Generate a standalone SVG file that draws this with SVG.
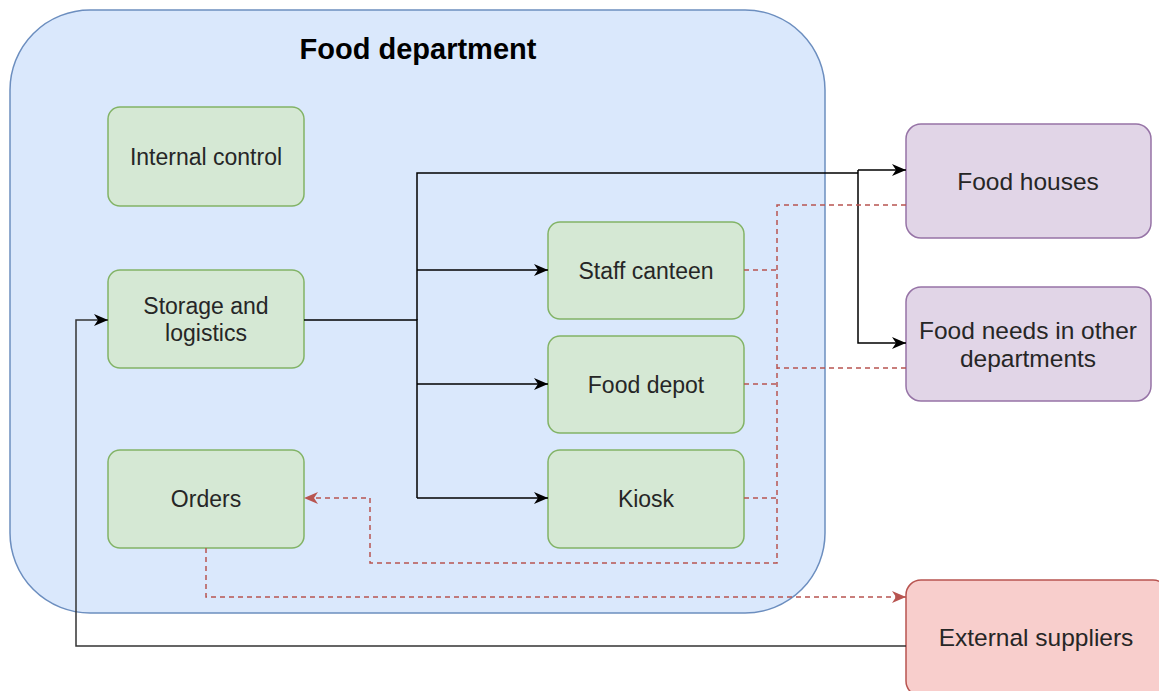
<svg xmlns="http://www.w3.org/2000/svg" width="1159" height="691" viewBox="0 0 1159 691">
<style>
.container{fill:#dae8fc;stroke:#6c8ebf;stroke-width:1.5}
.green{fill:#d5e8d4;stroke:#82b366;stroke-width:1.5}
.purple{fill:#e1d5e7;stroke:#9673a6;stroke-width:1.5}
.red{fill:#f8cecc;stroke:#b85450;stroke-width:1.5}
.lbl{font-family:"Liberation Sans",Arial,sans-serif;font-size:23px;fill:#262626;text-anchor:middle}
.big{font-size:24.5px}
.title{font-family:"Liberation Sans",Arial,sans-serif;font-size:29px;font-weight:bold;fill:#000;text-anchor:middle}
.solid{fill:none;stroke:#000;stroke-width:1.5}
.dash{fill:none;stroke:#b85450;stroke-width:1.5;stroke-dasharray:5 4}
</style>
<defs>
<marker id="arrB" markerUnits="userSpaceOnUse" markerWidth="14" markerHeight="12" viewBox="0 0 14 12" refX="14" refY="6" orient="auto">
<path d="M0,0 L14,6 L0,12 L4,6 z" fill="#000"/>
</marker>
<marker id="arrR" markerUnits="userSpaceOnUse" markerWidth="14" markerHeight="12" viewBox="0 0 14 12" refX="14" refY="6" orient="auto">
<path d="M0,0 L14,6 L0,12 L4,6 z" fill="#b85450"/>
</marker>
</defs>

<g id="food-department">
<rect class="container" x="10" y="10" width="815" height="603" rx="80" ry="80"/>
<text class="title" x="418" y="59">Food department</text>
</g>

<g id="internal-control">
<rect class="green" x="108" y="107" width="196" height="99" rx="12"/>
<text class="lbl" x="206" y="165">Internal control</text>
</g>
<g id="storage-logistics">
<rect class="green" x="108" y="270" width="196" height="98" rx="12"/>
<text class="lbl" x="206" y="314">Storage and</text>
<text class="lbl" x="206" y="341">logistics</text>
</g>
<g id="orders">
<rect class="green" x="108" y="450" width="196" height="98" rx="12"/>
<text class="lbl" x="206" y="507">Orders</text>
</g>
<g id="staff-canteen">
<rect class="green" x="548" y="222" width="196" height="97" rx="12"/>
<text class="lbl" x="646" y="279">Staff canteen</text>
</g>
<g id="food-depot">
<rect class="green" x="548" y="336" width="196" height="97" rx="12"/>
<text class="lbl" x="646" y="393">Food depot</text>
</g>
<g id="kiosk">
<rect class="green" x="548" y="450" width="196" height="98" rx="12"/>
<text class="lbl" x="646" y="507">Kiosk</text>
</g>
<g id="food-houses">
<rect class="purple" x="906" y="124" width="245" height="114" rx="15"/>
<text class="lbl big" x="1028" y="190">Food houses</text>
</g>
<g id="food-needs">
<rect class="purple" x="906" y="287" width="245" height="114" rx="15"/>
<text class="lbl big" x="1028" y="339">Food needs in other</text>
<text class="lbl big" x="1028" y="367">departments</text>
</g>
<g id="external-suppliers">
<rect class="red" x="906" y="580" width="262" height="116" rx="15"/>
<text class="lbl big" x="1036" y="646">External suppliers</text>
</g>

<g id="connectors">
<path class="solid" d="M304,320 H417 V498"/>
<path class="solid" d="M417,320 V173 H858"/>
<path class="solid" d="M858,170 H906" marker-end="url(#arrB)"/>
<path class="solid" d="M858,170 V343 H906" marker-end="url(#arrB)"/>
<path class="solid" d="M417,270 H548" marker-end="url(#arrB)"/>
<path class="solid" d="M417,384 H548" marker-end="url(#arrB)"/>
<path class="solid" d="M417,498 H548" marker-end="url(#arrB)"/>
<path class="solid" d="M906,646 H76 V320 H108" marker-end="url(#arrB)" style="stroke:#333"/>
<path class="dash" d="M906,205 H777 V563 H370 V498 H304" marker-end="url(#arrR)"/>
<path class="dash" d="M744,270 H777"/>
<path class="dash" d="M744,384 H777"/>
<path class="dash" d="M744,498 H777"/>
<path class="dash" d="M906,368 H777"/>
<path class="dash" d="M206,548 V597 H906" marker-end="url(#arrR)"/>
</g>
</svg>
